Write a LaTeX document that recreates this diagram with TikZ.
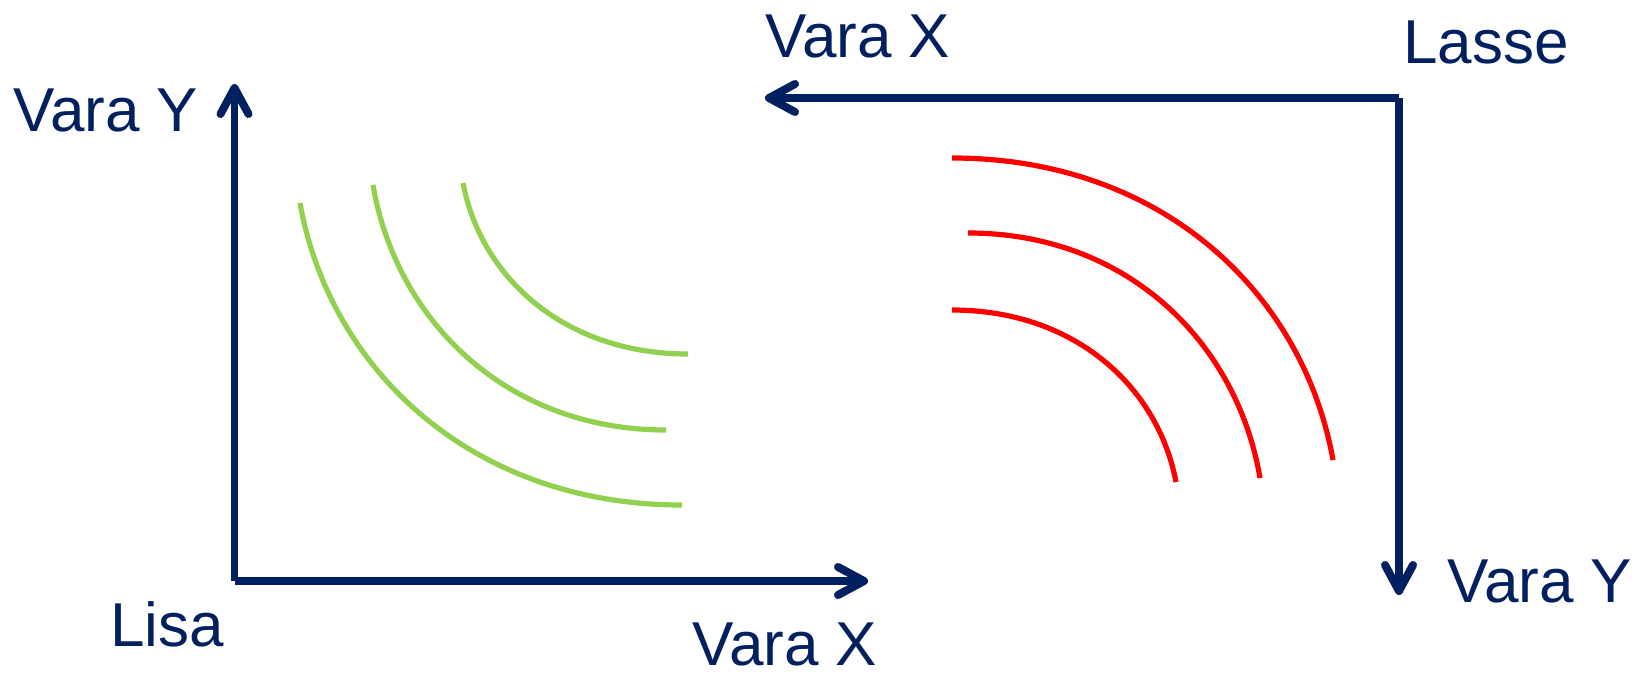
\documentclass[tikz,border=0pt]{standalone}
\usepackage{fontspec}
\setmainfont{Liberation Sans}
\usetikzlibrary{arrows.meta}
\definecolor{navy}{HTML}{002060}
\definecolor{leafgreen}{HTML}{92D050}
\definecolor{curvered}{HTML}{FF0000}
\begin{document}
\begin{tikzpicture}[x=0.5pt,y=-0.5pt,
  axis/.style={draw=navy,line width=3.75pt,
    -{Straight Barb[round,length=13pt,width=14pt,line width=4pt]}},
  lbl/.style={text=navy,inner sep=0pt,anchor=base west,
    font=\fontsize{31}{37}\selectfont},
  gcurve/.style={draw=leafgreen,line width=2.6pt},
  rcurve/.style={draw=curvered,line width=2.6pt}]
\useasboundingbox (0,0) rectangle (1652,675);

% Lisa's axes
\coordinate (lo) at (234.5,581);
\coordinate (ly) at (234.5,84);
\coordinate (lx) at (868,581);
\draw[axis] (lo) -- (ly);
\draw[axis] (lo) -- (lx);

% Lasse's axes (rotated)
\coordinate (so) at (1399,98);
\coordinate (sx) at (765,98);
\coordinate (sy) at (1399,595);
\draw[axis] (so) -- (sx);
\draw[axis] (so) -- (sy);

% labels
\node[lbl] (lyl) at (13,131) {Vara Y};
\node[lbl] (lxl) at (692,665) {Vara X};
\node[lbl] (lisa) at (110,646) {Lisa};
\node[lbl] (sxl) at (765,57) {Vara X};
\node[lbl] (lasse) at (1403,63) {Lasse};
\node[lbl] (syl) at (1447,602) {Vara Y};

% Lisa's indifference curves
\draw[gcurve] (300,203) .. controls +(30,167) and +(-210,0) .. (682,505);
\draw[gcurve] (373,185) .. controls +(23,135) and +(-160,0) .. (666,430);
\draw[gcurve] (463,183) .. controls +(18,95) and +(-123,0) .. (688,354);

% Lasse's indifference curves
\draw[rcurve] (952,158) .. controls +(210,0) and +(-30,-167) .. (1333,460);
\draw[rcurve] (968,233) .. controls +(160,0) and +(-23,-135) .. (1260,478);
\draw[rcurve] (952,310) .. controls +(123,0) and +(-18,-95) .. (1176,482);
\end{tikzpicture}
\end{document}
